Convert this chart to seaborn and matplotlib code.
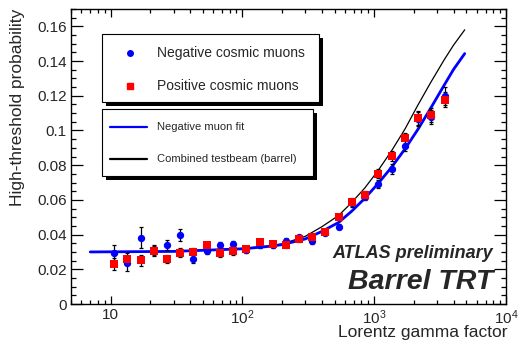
import numpy as np
import pandas as pd
import matplotlib
matplotlib.use("Agg")
import matplotlib.pyplot as plt
from matplotlib.patches import Rectangle
from matplotlib.lines import Line2D
import seaborn as sns

# ---------------- data ----------------
gamma = [10.6, 13.4, 16.9, 21.3, 26.7, 33.7, 42.5, 53.7, 67.6, 85, 107, 135, 170,
         213, 269, 339, 425, 537, 675, 851, 1072, 1360, 1717, 2140, 2690, 3450]
neg_prob = [0.0292, 0.0234, 0.0382, 0.0310, 0.0340, 0.0397, 0.0260, 0.0307, 0.0338,
            0.0345, 0.0310, 0.0340, 0.0340, 0.0364, 0.0384, 0.0363, 0.0412, 0.0445,
            0.0580, 0.0618, 0.0691, 0.0777, 0.0909, 0.1065, 0.1080, 0.1199]
neg_err = [0.0048, 0.0045, 0.0060, 0.0030, 0.0030, 0.0035, 0.0025, 0.0020, 0.0020,
           0.0020, 0.0018, 0.0015, 0.0015, 0.0015, 0.0015, 0.0015, 0.0015, 0.0015,
           0.0020, 0.0020, 0.0025, 0.0030, 0.0030, 0.0040, 0.0040, 0.0050]
pos_prob = [0.0230, 0.0259, 0.0251, 0.0307, 0.0259, 0.0295, 0.0301, 0.0340, 0.0292,
            0.0303, 0.0317, 0.0355, 0.0344, 0.0340, 0.0372, 0.0384, 0.0416, 0.0500,
            0.0589, 0.0631, 0.0752, 0.0854, 0.0954, 0.1072, 0.1090, 0.1178]
pos_err = [0.0035, 0.0035, 0.0030, 0.0030, 0.0025, 0.0025, 0.0020, 0.0020, 0.0020,
           0.0018, 0.0015, 0.0015, 0.0015, 0.0015, 0.0015, 0.0015, 0.0015, 0.0015,
           0.0020, 0.0020, 0.0025, 0.0030, 0.0030, 0.0040, 0.0040, 0.0045]

fit_gamma = [7, 30, 100, 150, 200, 300, 400, 537, 675, 851, 1072, 1360, 1717, 2140,
             2690, 3400, 4000, 4860]
neg_fit = [0.0300, 0.0303, 0.0318, 0.0330, 0.0342, 0.0375, 0.0418, 0.0470, 0.0535,
           0.0610, 0.0695, 0.0790, 0.0895, 0.1005, 0.1130, 0.1262, 0.1352, 0.1443]
beam_fit = [0.0300, 0.0303, 0.0320, 0.0332, 0.0346, 0.0390, 0.0445, 0.0510, 0.0585,
            0.0670, 0.0770, 0.0885, 0.1010, 0.1145, 0.1278, 0.1408, 0.1492, 0.1580]

xtick_vals = [10, 100, 1000, 10000]
xtick_labels = ["10", r"$10^{2}$", r"$10^{3}$", r"$10^{4}$"]
ytick_vals = [0, 0.02, 0.04, 0.06, 0.08, 0.1, 0.12, 0.14, 0.16]
ytick_labels = ["0", "0.02", "0.04", "0.06", "0.08", "0.1", "0.12", "0.14", "0.16"]

# ---------------- style ----------------
sns.set_style("ticks")
plt.rcParams["font.family"] = ["Liberation Sans", "DejaVu Sans"]
plt.rcParams["mathtext.fontset"] = "custom"
plt.rcParams["mathtext.rm"] = "Liberation Sans"
plt.rcParams["mathtext.it"] = "Liberation Sans:italic"

W, H = 521, 340
fig = plt.figure(figsize=(W / 100, H / 100), dpi=100)
fig.patch.set_facecolor("white")

def fx(px):
    return px / W

def fy(py):
    return 1 - py / H

ax = fig.add_axes([fx(71), fy(304), fx(506) - fx(71), fy(9) - fy(304)])
ax.set_facecolor("white")

df_neg = pd.DataFrame({"gamma": gamma, "p": neg_prob, "e": neg_err})
df_pos = pd.DataFrame({"gamma": gamma, "p": pos_prob, "e": pos_err})
df_fit = pd.DataFrame({"gamma": fit_gamma, "neg": neg_fit, "beam": beam_fit})

# curves
sns.lineplot(data=df_fit, x="gamma", y="beam", ax=ax, color="black", linewidth=0.9,
             sort=False, zorder=2)
sns.lineplot(data=df_fit, x="gamma", y="neg", ax=ax, color="#0000ff", linewidth=2.0,
             sort=False, zorder=3)

# error bars
ax.errorbar(df_neg["gamma"], df_neg["p"], yerr=df_neg["e"], fmt="none", ecolor="black",
            elinewidth=0.9, capsize=1.6, capthick=0.9, zorder=4)
ax.errorbar(df_pos["gamma"], df_pos["p"], yerr=df_pos["e"], fmt="none", ecolor="black",
            elinewidth=0.9, capsize=1.6, capthick=0.9, zorder=4)

# points
sns.scatterplot(data=df_neg, x="gamma", y="p", ax=ax, color="#0000ff", marker="o",
                s=28, linewidth=0, zorder=5)
sns.scatterplot(data=df_pos, x="gamma", y="p", ax=ax, color="#ff0000", marker="s",
                s=32, linewidth=0, zorder=6)

ax.set_xscale("log")
ax.set_xlim(5, 10000)
ax.set_ylim(0, 0.17)
ax.set_xticks(xtick_vals)
ax.set_xticklabels(xtick_labels)
ax.set_yticks(ytick_vals)
ax.set_yticklabels(ytick_labels)
ax.set_yticks(np.arange(0, 0.1701, 0.005), minor=True)
ax.xaxis.set_minor_locator(matplotlib.ticker.LogLocator(base=10, subs=np.arange(2, 10)))
ax.xaxis.set_minor_formatter(matplotlib.ticker.NullFormatter())
ax.set_xlabel("")
ax.set_ylabel("")

for sp in ax.spines.values():
    sp.set_visible(True)
    sp.set_linewidth(1.0)
    sp.set_color("black")

ax.tick_params(axis="both", which="both", direction="in", top=True, right=True,
               color="black", width=0.9)
ax.tick_params(axis="y", which="major", length=8.5, labelsize=11, pad=3)
ax.tick_params(axis="y", which="minor", length=3.6)
ax.tick_params(axis="x", which="major", length=5.8, labelsize=11, pad=3)
ax.tick_params(axis="x", which="minor", length=2.6)

# axis titles
fig.text(fx(18), fy(9), "High-threshold probability", rotation=90, ha="center", va="top",
         fontsize=12.5)
fig.text(fx(507), fy(337), "Lorentz gamma factor", ha="right", va="baseline",
         fontsize=12.5)

# ATLAS labels
fig.text(fx(493), fy(253), "ATLAS preliminary", ha="right", va="center", fontsize=13,
         fontweight="bold", fontstyle="italic")
fig.text(fx(493), fy(282), "Barrel TRT", ha="right", va="center", fontsize=20.5,
         fontweight="bold", fontstyle="italic")

# legend boxes (ROOT style with shadow)
def box(x0, y0, x1, y1):
    shadow = Rectangle((fx(x0 + 4), fy(y1 + 4)), fx(x1) - fx(x0), fy(y0) - fy(y1),
                       transform=fig.transFigure, facecolor="black", edgecolor="none",
                       zorder=10)
    main = Rectangle((fx(x0), fy(y1)), fx(x1) - fx(x0), fy(y0) - fy(y1),
                     transform=fig.transFigure, facecolor="white", edgecolor="black",
                     linewidth=0.8, zorder=11)
    fig.patches.extend([shadow, main])

box(102, 34, 319, 102)
box(102, 109, 313, 176)

fig.lines.append(Line2D([fx(130)], [fy(53)], transform=fig.transFigure, marker="o",
                        markersize=4, color="#0000ff", linestyle="none", zorder=12))
fig.lines.append(Line2D([fx(130)], [fy(86)], transform=fig.transFigure, marker="s",
                        markersize=4.5, color="#ff0000", linestyle="none", zorder=12))
fig.text(fx(157), fy(53), "Negative cosmic muons", ha="left", va="center", fontsize=10,
         zorder=12)
fig.text(fx(157), fy(86), "Positive cosmic muons", ha="left", va="center", fontsize=10,
         zorder=12)
fig.lines.append(Line2D([fx(110), fx(147)], [fy(127), fy(127)], transform=fig.transFigure,
                        color="#0000ff", linewidth=1.6, zorder=12))
fig.lines.append(Line2D([fx(110), fx(147)], [fy(159), fy(159)], transform=fig.transFigure,
                        color="black", linewidth=1.6, zorder=12))
fig.text(fx(157), fy(127), "Negative muon fit", ha="left", va="center", fontsize=8,
         zorder=12)
fig.text(fx(157), fy(159), "Combined testbeam (barrel)", ha="left", va="center",
         fontsize=8, zorder=12)

fig.savefig("out.png", dpi=100, facecolor="white")
